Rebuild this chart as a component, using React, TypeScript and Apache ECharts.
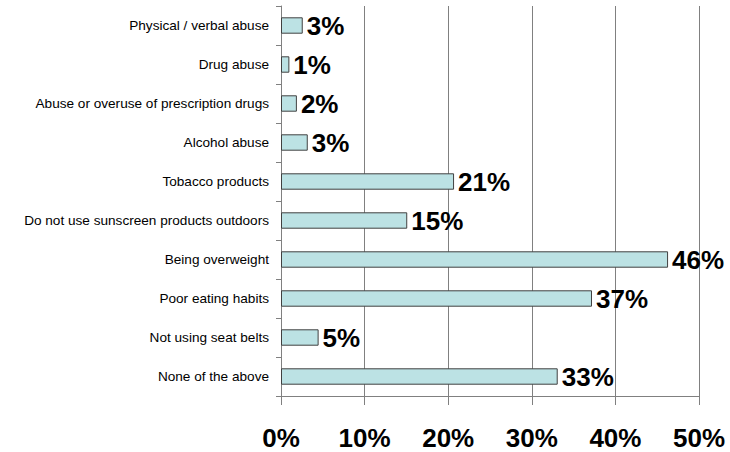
import React, { useEffect, useRef } from "react";
import * as echarts from "echarts";

const categories = [
  "Physical / verbal abuse",
  "Drug abuse",
  "Abuse or overuse of prescription drugs",
  "Alcohol abuse",
  "Tobacco products",
  "Do not use sunscreen products outdoors",
  "Being overweight",
  "Poor eating habits",
  "Not using seat belts",
  "None of the above",
];
const values = [2.6, 1.0, 1.9, 3.2, 20.7, 15.1, 46.3, 37.2, 4.5, 33.1];
const valueLabels = ["3%", "1%", "2%", "3%", "21%", "15%", "46%", "37%", "5%", "33%"];
const xTicks = [0, 10, 20, 30, 40, 50];

export default function App() {
  const ref = useRef<HTMLDivElement>(null);
  useEffect(() => {
    if (!ref.current) return;
    const chart = echarts.init(ref.current, null, { renderer: "svg" });
    chart.setOption({
      animation: false,
      backgroundColor: "#ffffff",
      grid: { left: 281, right: 31, top: 6, bottom: 56, containLabel: false },
      xAxis: {
        type: "value",
        min: xTicks[0],
        max: xTicks[xTicks.length - 1],
        interval: 10,
        axisLine: { show: true, lineStyle: { color: "#808080", width: 1 } },
        axisTick: { show: true, length: 9, inside: false, lineStyle: { color: "#808080" } },
        splitLine: { show: true, lineStyle: { color: "#808080", width: 1 } },
        axisLabel: {
          formatter: (v: number) => `${v}%`,
          fontFamily: "Liberation Sans, Arial, sans-serif",
          fontWeight: "bold",
          fontSize: 26,
          lineHeight: 22,
          color: "#000000",
          margin: 31,
        },
      },
      yAxis: {
        type: "category",
        data: categories,
        inverse: true,
        axisLine: { show: true, lineStyle: { color: "#808080", width: 1 } },
        axisTick: { show: true, length: 5, lineStyle: { color: "#808080" } },
        splitLine: { show: false },
        axisLabel: {
          fontFamily: "Liberation Sans, Arial, sans-serif",
          fontSize: 13.6,
          color: "#000000",
          margin: 12,
        },
      },
      series: [
        {
          type: "bar",
          data: values,
          barWidth: "42%",
          itemStyle: { color: "#BCE2E4", borderColor: "#404040", borderWidth: 1 },
          label: {
            show: true,
            position: "right",
            distance: 4,
            formatter: (p: any) => valueLabels[p.dataIndex],
            fontFamily: "Liberation Sans, Arial, sans-serif",
            fontWeight: "bold",
            fontSize: 26,
            color: "#000000",
          },
        },
      ],
    });
    return () => chart.dispose();
  }, []);
  return <div ref={ref} style={{ width: 730, height: 452, position: "absolute", left: 0, top: 0 }} />;
}
